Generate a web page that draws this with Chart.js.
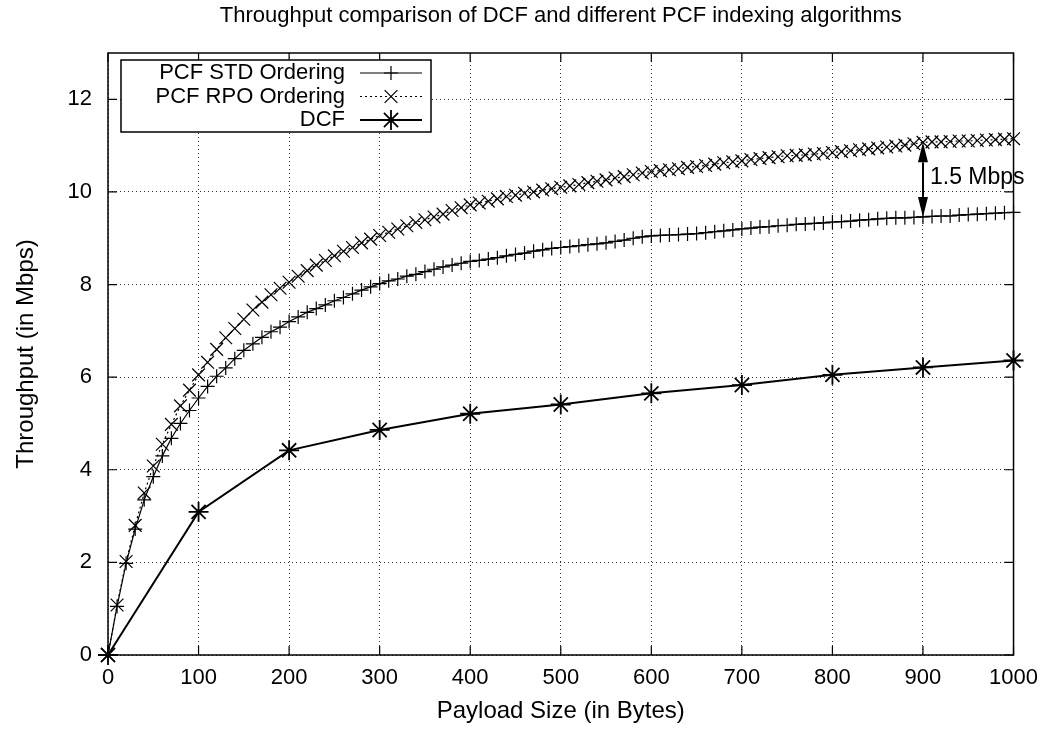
<!DOCTYPE html>
<html>
<head>
<meta charset="utf-8">
<title>Throughput comparison</title>
<script src="https://cdn.jsdelivr.net/npm/chart.js@4/dist/chart.umd.min.js"></script>
<style>
  html, body { margin: 0; padding: 0; background: #fff; }
</style>
</head>
<body>
<canvas id="throughputChart" width="1048" height="729"></canvas>
<script>
// payload sizes (bytes) used for the two PCF runs
const payloadFine = [
  0, 10, 20, 30, 40, 50, 60, 70, 80, 90,
  100, 110, 120, 130, 140, 150, 160, 170, 180, 190,
  200, 210, 220, 230, 240, 250, 260, 270, 280, 290,
  300, 310, 320, 330, 340, 350, 360, 370, 380, 390,
  400, 410, 420, 430, 440, 450, 460, 470, 480, 490,
  500, 510, 520, 530, 540, 550, 560, 570, 580, 590,
  600, 610, 620, 630, 640, 650, 660, 670, 680, 690,
  700, 710, 720, 730, 740, 750, 760, 770, 780, 790,
  800, 810, 820, 830, 840, 850, 860, 870, 880, 890,
  900, 910, 920, 930, 940, 950, 960, 970, 980, 990,
  1000
];

// throughput in Mbps
const pcfStd = [
  0, 1.05, 1.98, 2.72, 3.35, 3.85, 4.30, 4.68, 5.00, 5.28,
  5.55, 5.80, 6.02, 6.20, 6.40, 6.58, 6.72, 6.86, 6.98, 7.08,
  7.20, 7.30, 7.40, 7.48, 7.56, 7.65, 7.72, 7.80, 7.88, 7.95,
  8.02, 8.08, 8.12, 8.18, 8.22, 8.28, 8.33, 8.38, 8.42, 8.46,
  8.50, 8.52, 8.55, 8.58, 8.62, 8.65, 8.68, 8.72, 8.75, 8.78,
  8.80, 8.82, 8.84, 8.86, 8.88, 8.90, 8.93, 8.96, 9.00, 9.03,
  9.05, 9.06, 9.07, 9.08, 9.09, 9.10, 9.12, 9.14, 9.16, 9.18,
  9.20, 9.22, 9.24, 9.25, 9.27, 9.28, 9.30, 9.31, 9.32, 9.33,
  9.35, 9.36, 9.37, 9.39, 9.40, 9.42, 9.43, 9.44, 9.44, 9.45,
  9.46, 9.47, 9.48, 9.48, 9.50, 9.51, 9.52, 9.53, 9.54, 9.55,
  9.56
];

const pcfRpo = [
  0, 1.08, 2.02, 2.80, 3.50, 4.08, 4.55, 4.98, 5.38, 5.72,
  6.05, 6.32, 6.60, 6.85, 7.05, 7.25, 7.45, 7.62, 7.78, 7.92,
  8.05, 8.18, 8.30, 8.42, 8.52, 8.62, 8.72, 8.80, 8.90, 8.98,
  9.06, 9.13, 9.20, 9.27, 9.34, 9.40, 9.46, 9.52, 9.60, 9.66,
  9.72, 9.76, 9.80, 9.85, 9.90, 9.93, 9.97, 10.00, 10.04, 10.07,
  10.10, 10.13, 10.16, 10.20, 10.23, 10.26, 10.30, 10.33, 10.37, 10.41,
  10.44, 10.46, 10.48, 10.50, 10.53, 10.55, 10.57, 10.60, 10.63, 10.65,
  10.67, 10.70, 10.72, 10.74, 10.76, 10.78, 10.79, 10.80, 10.82, 10.83,
  10.85, 10.87, 10.89, 10.91, 10.93, 10.95, 10.97, 10.99, 11.01, 11.04,
  11.07, 11.08, 11.08, 11.09, 11.10, 11.10, 11.11, 11.12, 11.13, 11.14,
  11.15
];

const payloadCoarse = [0, 100, 200, 300, 400, 500, 600, 700, 800, 900, 1000];
const dcf = [0, 3.09, 4.42, 4.86, 5.21, 5.41, 5.65, 5.83, 6.05, 6.21, 6.36];

const seriesNames = ['PCF STD Ordering', 'PCF RPO Ordering', 'DCF'];
const xTicks = [0, 100, 200, 300, 400, 500, 600, 700, 800, 900, 1000];
const yTicks = [0, 2, 4, 6, 8, 10, 12];

const gapAt = 900;
const gapLabel = '1.5 Mbps';
const titleText = 'Throughput comparison of DCF and different PCF indexing algorithms';

const FONT = "'Liberation Sans', Arial, Helvetica, sans-serif";

const toPoints = (xs, ys) => xs.map((x, i) => ({ x: x, y: ys[i] }));

const styles = [
  { borderWidth: 1.2, borderDash: [], pointStyle: 'cross', pointRadius: 7, pointBorderWidth: 1.2 },
  { borderWidth: 1.2, borderDash: [2, 3], pointStyle: 'crossRot', pointRadius: 9, pointBorderWidth: 1.2 },
  { borderWidth: 2, borderDash: [], pointStyle: 'star', pointRadius: 10, pointBorderWidth: 1.8 }
];

// frame, inward tick marks, title, legend box and the gap arrow
const decorations = {
  id: 'decorations',
  afterDatasetsDraw(chart) {
    const { ctx, chartArea: a, scales } = chart;
    const xs = scales.x, ys = scales.y;
    ctx.save();

    // frame
    ctx.strokeStyle = '#000';
    ctx.lineWidth = 1.5;
    ctx.setLineDash([]);
    ctx.strokeRect(a.left, a.top, a.right - a.left, a.bottom - a.top);

    // ticks on all four sides
    const tl = 9;
    ctx.lineWidth = 1.2;
    ctx.beginPath();
    xTicks.forEach(v => {
      const px = xs.getPixelForValue(v);
      ctx.moveTo(px, a.bottom); ctx.lineTo(px, a.bottom - tl);
      ctx.moveTo(px, a.top); ctx.lineTo(px, a.top + tl);
    });
    yTicks.forEach(v => {
      const py = ys.getPixelForValue(v);
      ctx.moveTo(a.left, py); ctx.lineTo(a.left + tl, py);
      ctx.moveTo(a.right, py); ctx.lineTo(a.right - tl, py);
    });
    ctx.stroke();

    // title
    ctx.fillStyle = '#000';
    ctx.font = '22px ' + FONT;
    ctx.textAlign = 'center';
    ctx.textBaseline = 'middle';
    ctx.fillText(titleText, (a.left + a.right) / 2, 16);

    // gap arrow between the two PCF curves
    const idx = payloadFine.indexOf(gapAt);
    const ax = xs.getPixelForValue(gapAt);
    const yTop = ys.getPixelForValue(pcfRpo[idx]);
    const yBot = ys.getPixelForValue(pcfStd[idx]);
    const headL = 20, headW = 5;
    ctx.lineWidth = 2;
    ctx.beginPath();
    ctx.moveTo(ax, yTop + headL); ctx.lineTo(ax, yBot - headL);
    ctx.stroke();
    ctx.beginPath();
    ctx.moveTo(ax, yTop); ctx.lineTo(ax - headW, yTop + headL); ctx.lineTo(ax + headW, yTop + headL);
    ctx.closePath();
    ctx.moveTo(ax, yBot); ctx.lineTo(ax - headW, yBot - headL); ctx.lineTo(ax + headW, yBot - headL);
    ctx.closePath();
    ctx.fill();
    ctx.font = '23px ' + FONT;
    ctx.textAlign = 'left';
    ctx.fillText(gapLabel, ax + 7, (yTop + yBot) / 2 - 2);

    // legend
    const bx = 121, by = 60, bw = 310, bh = 72;
    ctx.fillStyle = '#fff';
    ctx.fillRect(bx, by, bw, bh);
    ctx.strokeStyle = '#000';
    ctx.lineWidth = 1.5;
    ctx.strokeRect(bx, by, bw, bh);
    ctx.font = '22px ' + FONT;
    ctx.textAlign = 'right';
    ctx.fillStyle = '#000';
    seriesNames.forEach((name, i) => {
      const ry = by + 13 + i * 23.5;
      ctx.fillText(name, 345, ry);
      const st = styles[i];
      ctx.lineWidth = st.borderWidth;
      ctx.setLineDash(st.borderDash);
      ctx.beginPath();
      ctx.moveTo(360, ry); ctx.lineTo(422, ry);
      ctx.stroke();
      ctx.setLineDash([]);
      ctx.lineWidth = st.pointBorderWidth;
      Chart.helpers.drawPoint(ctx, {
        pointStyle: st.pointStyle, radius: st.pointRadius,
        borderWidth: st.pointBorderWidth, rotation: 0
      }, 391, ry);
    });

    ctx.restore();
  }
};

const datasets = [
  toPoints(payloadFine, pcfStd),
  toPoints(payloadFine, pcfRpo),
  toPoints(payloadCoarse, dcf)
].map((pts, i) => Object.assign({
  label: seriesNames[i],
  data: pts,
  borderColor: '#000',
  backgroundColor: '#000',
  pointBorderColor: '#000',
  pointBackgroundColor: '#000',
  fill: false,
  tension: 0,
  clip: false
}, styles[i]));

const gridStyle = { color: '#333', lineWidth: 1, drawTicks: false };
const plainNumber = v => String(v);

new Chart(document.getElementById('throughputChart'), {
  type: 'line',
  data: { datasets: datasets },
  options: {
    responsive: false,
    animation: false,
    layout: { padding: { top: 53, right: 31, bottom: 0, left: 0 } },
    plugins: {
      legend: { display: false },
      title: { display: false },
      tooltip: { enabled: false }
    },
    scales: {
      x: {
        type: 'linear',
        min: 0,
        max: 1000,
        afterBuildTicks: axis => { axis.ticks = xTicks.map(v => ({ value: v })); },
        afterFit: scale => { scale.height = 74; },
        grid: gridStyle,
        border: { display: false, dash: [1, 3] },
        ticks: { color: '#000', font: { family: FONT, size: 22 }, padding: 10, maxRotation: 0, callback: plainNumber },
        title: {
          display: true,
          text: 'Payload Size (in Bytes)',
          color: '#000',
          font: { family: FONT, size: 24 },
          padding: { top: 0, bottom: 3 }
        }
      },
      y: {
        type: 'linear',
        min: 0,
        max: 13,
        afterBuildTicks: axis => { axis.ticks = yTicks.map(v => ({ value: v })); },
        afterFit: scale => { scale.width = 108; },
        grid: gridStyle,
        border: { display: false, dash: [1, 3] },
        ticks: { color: '#000', font: { family: FONT, size: 22 }, padding: 16, callback: plainNumber },
        title: {
          display: true,
          text: 'Throughput (in Mbps)',
          color: '#000',
          font: { family: FONT, size: 24 },
          padding: { top: 12, bottom: 0 }
        }
      }
    }
  },
  plugins: [decorations]
});
</script>
</body>
</html>
